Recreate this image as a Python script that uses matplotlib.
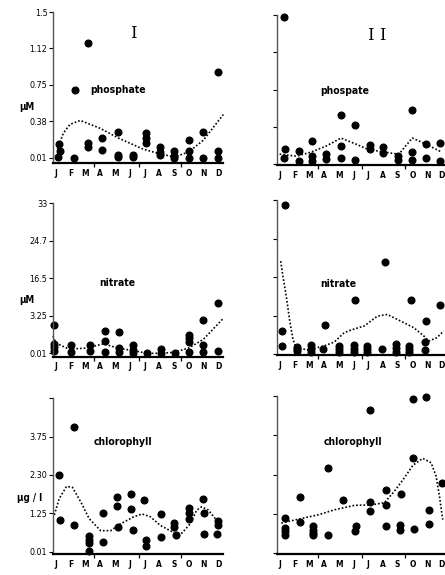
import numpy as np
import matplotlib.pyplot as plt

# month labels and quarter marks on the time axis
months = ['J', 'F', 'M', 'A', 'M', 'J', 'J', 'A', 'S', 'O', 'N', 'D']
quarter_ticks = [2.6, 5.6, 8.5]

# broken y scales: tick values as printed on the figure
phos_ticks = [0.01, 0.38, 0.75, 1.12, 1.5]
phos_labels = ['0.01', '0.38', '0.75', '1.12', '1.5']
nit_ticks = [0.01, 3.25, 16.5, 24.7, 33]
nit_labels = ['0.01', '3.25', '16.5', '24.7', '33']
chl_ticks = [0.01, 1.25, 2.30, 3.75, 5.0]
chl_labels = ['0.01', '1.25', '2.30', '3.75', '']

# station I - phosphate
lp_x = [0.2, 0.25, 0.15, 1.3, 1.25, 2.2, 2.2, 2.2, 3.1, 3.1, 4.2, 4.2, 4.2, 5.2, 5.2,
        6.1, 6.1, 6.1, 7.05, 7.05, 7.05, 8.0, 8.0, 8.0, 9.0, 9.0, 9.0, 10.0, 10.0, 11.0, 11.0, 11.0]
lp_v = [0.15, 0.08, 0.02, 0.70, 0.01, 1.18, 0.16, 0.12, 0.21, 0.09, 0.27, 0.04, 0.02, 0.04, 0.02,
        0.26, 0.21, 0.16, 0.12, 0.07, 0.04, 0.08, 0.03, 0.0, 0.19, 0.08, 0.0, 0.27, 0.0, 0.88, 0.08, 0.0]
lp_cx = [0.1, 0.5, 0.95, 1.65, 3.0, 4.25, 5.9, 7.05, 8.05, 9.0, 10.0, 11.35]
lp_cv = [0.10, 0.26, 0.35, 0.39, 0.31, 0.21, 0.10, 0.05, 0.02, 0.07, 0.19, 0.45]

# station II - phosphate
rp_x = [0.3, 0.35, 0.3, 1.3, 1.3, 2.2, 2.2, 2.2, 3.15, 3.15, 4.15, 4.15, 4.15, 5.1, 5.1,
        6.1, 6.1, 7.0, 7.0, 8.0, 8.0, 9.0, 9.0, 9.0, 9.95, 9.95, 10.9, 10.9]
rp_v = [1.48, 0.16, 0.07, 0.14, 0.04, 0.24, 0.09, 0.04, 0.11, 0.06, 0.50, 0.19, 0.07, 0.40, 0.05,
        0.20, 0.16, 0.18, 0.12, 0.09, 0.05, 0.55, 0.13, 0.05, 0.21, 0.07, 0.22, 0.04]
rp_cx = [0.0, 1.12, 2.13, 3.15, 4.16, 5.17, 5.96, 7.08, 8.09, 8.54, 8.99, 9.78, 11.0]
rp_cv = [0.11, 0.09, 0.13, 0.19, 0.27, 0.21, 0.16, 0.13, 0.11, 0.19, 0.27, 0.22, 0.13]

# station I - nitrate
ln_x = [-0.15, -0.15, -0.15, -0.15, 1.05, 1.05, 2.3, 2.3, 3.3, 3.3, 3.3, 4.25, 4.25, 4.25,
        5.2, 5.2, 5.2, 6.15, 7.1, 7.1, 8.05, 9.05, 9.05, 9.05, 9.05, 10.0, 10.0, 10.0, 11.0, 11.0]
ln_v = [2.5, 0.8, 0.55, 0.2, 0.77, 0.16, 0.7, 0.22, 1.98, 1.07, 0.16, 1.83, 0.46, 0.16,
        0.7, 0.31, 0.07, 0.0, 0.4, 0.0, 0.01, 1.59, 1.31, 0.98, 0.16, 2.89, 0.77, 0.16, 7.8, 0.25]
ln_cx = [-0.2, 0.0, 0.89, 2.0, 3.22, 4.22, 5.33, 6.22, 7.11, 8.0, 9.0, 10.0, 11.33]
ln_cv = [1.5, 0.9, 0.37, 0.46, 0.83, 0.46, 0.22, 0.01, 0.0, 0.1, 0.46, 1.22, 3.0]

# station II - nitrate
rn_x = [0.35, 0.15, 0.15, 1.2, 1.2, 1.2, 2.15, 2.15, 2.15, 3.1, 2.95, 4.0, 4.0, 4.0,
        5.1, 5.05, 5.05, 5.05, 5.95, 5.95, 5.95, 7.15, 6.95, 7.9, 7.9, 7.9,
        8.9, 8.75, 8.75, 8.75, 9.9, 9.85, 9.85, 10.9]
rn_v = [31.9, 1.95, 0.7, 0.65, 0.43, 0.29, 0.79, 0.43, 0.23, 2.5, 0.43, 0.7, 0.43, 0.23,
        8.7, 0.79, 0.43, 0.23, 0.7, 0.43, 0.23, 19.8, 0.43, 0.84, 0.56, 0.23,
        8.7, 0.7, 0.43, 0.23, 2.78, 1.04, 0.34, 7.0]
rn_cx = [0.07, 0.22, 0.45, 0.67, 0.9, 1.12, 1.91, 3.03, 3.71, 4.38, 4.83, 5.73, 6.63,
         7.3, 8.2, 9.1, 9.78, 10.11, 10.67, 11.12]
rn_cv = [19.9, 16.7, 9.9, 2.93, 1.26, 0.57, 0.37, 0.71, 1.04, 1.82, 2.04, 2.38, 3.21,
         3.67, 2.8, 2.24, 1.54, 1.12, 1.4, 1.96]

# station I - chlorophyll
lc_x = [0.2, 0.3, 1.25, 1.25, 2.25, 2.25, 2.25, 2.25, 3.2, 3.2, 4.15, 4.15, 4.2, 5.1, 5.1, 5.2,
        6.0, 6.1, 6.1, 7.15, 7.15, 8.0, 8.0, 8.15, 9.0, 9.05, 9.0, 10.0, 10.05, 10.05, 11.0, 11.0, 10.9]
lc_v = [2.29, 1.02, 4.08, 0.86, 0.52, 0.40, 0.29, 0.03, 1.27, 0.33, 1.70, 1.46, 0.82, 1.79, 1.38, 0.72,
        1.61, 0.40, 0.18, 1.23, 0.48, 0.95, 0.80, 0.54, 1.40, 1.25, 1.08, 1.63, 1.25, 0.57, 0.99, 0.86, 0.57]
lc_cx = [-0.11, 0.22, 0.72, 1.12, 1.69, 2.25, 3.03, 3.71, 4.38, 5.28, 5.84, 6.4, 7.08, 7.98,
         8.54, 9.1, 9.55, 9.89, 10.34, 10.9, 11.12]
lc_cv = [1.20, 1.65, 1.99, 1.96, 1.56, 1.08, 0.69, 0.69, 0.91, 1.14, 1.23, 1.14, 0.86, 0.63,
         0.61, 0.91, 1.34, 1.43, 1.34, 1.02, 0.86]

# station II - chlorophyll
rc_x = [0.35, 0.35, 0.35, 0.35, 1.35, 1.35, 2.25, 2.25, 2.25, 2.25, 3.25, 3.25, 4.3, 5.2, 5.1,
        6.15, 6.15, 6.15, 7.2, 7.2, 7.2, 8.2, 8.15, 8.15, 9.05, 9.05, 9.1, 9.95, 10.1, 10.1, 11.0]
rc_v = [1.12, 0.81, 0.70, 0.60, 1.69, 0.99, 0.86, 0.75, 0.65, 0.57, 2.56, 0.60, 1.63, 0.88, 0.70,
        4.54, 1.58, 1.34, 1.90, 1.49, 0.86, 1.79, 0.91, 0.75, 4.90, 2.90, 0.78, 4.96, 1.36, 0.94, 2.07]
rc_cx = [0.11, 1.24, 2.6, 3.72, 5.08, 6.21, 7.11, 7.79, 8.47, 9.03, 9.71, 10.27, 10.61, 10.84, 11.06]
rc_cv = [0.96, 1.08, 1.22, 1.36, 1.48, 1.49, 1.55, 1.86, 2.22, 2.64, 2.90, 2.74, 2.26, 1.72, 1.07]

W, H = 445, 575
fig = plt.figure(figsize=(W / 100, H / 100), dpi=100)
cond = dict(family='DejaVu Sans', fontstretch='condensed')


def make_axes(x0, top, bottom, width=170):
    return fig.add_axes([x0 / W, 1 - bottom / H, width / W, (bottom - top) / H])


def draw_panel(ax, px, pv, cx, cv, ticks, labels, show_labels, ylo):
    pos = np.arange(len(ticks))
    ax.plot(np.array(cx), np.interp(cv, ticks, pos), color='black', lw=1.2,
            ls=(0, (1, 1.2)), clip_on=False)
    ax.plot(np.array(px), np.interp(pv, ticks, pos), 'o', color='black', ms=4.8,
            mec='black', clip_on=False)
    ax.set_xlim(-0.2, 11.33)
    ax.set_ylim(ylo, pos[-1])
    ax.set_yticks(pos)
    ax.set_yticklabels(labels if show_labels else [''] * len(labels), fontsize=6.5, **cond)
    ax.tick_params(axis='y', length=3, width=0.8, pad=1)
    ax.set_xticks(quarter_ticks)
    ax.set_xticklabels([])
    ax.tick_params(axis='x', which='major', length=3, width=0.9)
    ax.set_xticks(np.arange(12), minor=True)
    ax.set_xticklabels(months, minor=True, fontsize=6, fontweight='bold', **cond)
    ax.tick_params(axis='x', which='minor', length=0, pad=4)
    ax.spines['top'].set_visible(False)
    ax.spines['right'].set_visible(False)
    ax.spines['left'].set_color('#555555')
    ax.spines['left'].set_linewidth(1.0)
    ax.spines['bottom'].set_linewidth(1.6)
    ax.patch.set_alpha(0)


ax1 = make_axes(53, 12, 163)
draw_panel(ax1, lp_x, lp_v, lp_cx, lp_cv, phos_ticks, phos_labels, True, -0.14)
ax2 = make_axes(276.7, 15, 165)
draw_panel(ax2, rp_x, rp_v, rp_cx, rp_cv, phos_ticks, phos_labels, False, -0.02)
ax3 = make_axes(53, 203.3, 356.7)
draw_panel(ax3, ln_x, ln_v, ln_cx, ln_cv, nit_ticks, nit_labels, True, -0.09)
ax4 = make_axes(276.7, 200, 355)
draw_panel(ax4, rn_x, rn_v, rn_cx, rn_cv, nit_ticks, nit_labels, False, -0.02)
ax5 = make_axes(53, 398.3, 554)
draw_panel(ax5, lc_x, lc_v, lc_cx, lc_cv, chl_ticks, chl_labels, True, -0.06)
ax6 = make_axes(276.7, 396, 554)
draw_panel(ax6, rc_x, rc_v, rc_cx, rc_cv, chl_ticks, chl_labels, False, -0.02)


def ftext(x, y, s, **kw):
    fig.text(x / W, 1 - y / H, s, ha='center', va='center', **kw)


ftext(133, 33, 'I', fontsize=12, family='DejaVu Serif')
ftext(377, 35, 'I I', fontsize=12, family='DejaVu Serif')
ftext(118, 90, 'phosphate', fontsize=7.5, fontweight='bold', **cond)
ftext(345, 91, 'phospate', fontsize=7.5, fontweight='bold', **cond)
ftext(117, 283, 'nitrate', fontsize=7.5, fontweight='bold', **cond)
ftext(338, 284, 'nitrate', fontsize=7.5, fontweight='bold', **cond)
ftext(123, 442, 'chlorophyll', fontsize=7.5, fontweight='bold', **cond)
ftext(353, 442, 'chlorophyll', fontsize=7.5, fontweight='bold', **cond)
ftext(27, 107, 'µM', fontsize=7, fontweight='bold', **cond)
ftext(27, 300, 'µM', fontsize=7, fontweight='bold', **cond)
ftext(30, 498, 'µg / l', fontsize=7, fontweight='bold', **cond)

fig.savefig('out.png', dpi=100)
